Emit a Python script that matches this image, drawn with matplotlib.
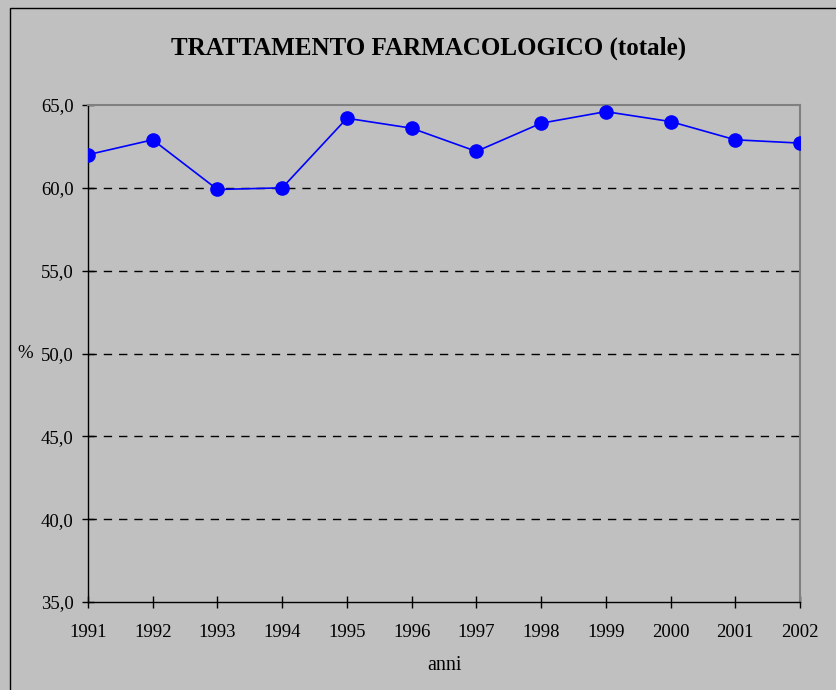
import matplotlib.pyplot as plt
from matplotlib.patches import Rectangle
from matplotlib.ticker import FuncFormatter

anni = [1991, 1992, 1993, 1994, 1995, 1996, 1997, 1998, 1999, 2000, 2001, 2002]
percentuale = [62.0, 62.9, 59.9, 60.0, 64.2, 63.6, 62.2, 63.9, 64.6, 64.0, 62.9, 62.7]
y_ticks = [35.0, 40.0, 45.0, 50.0, 55.0, 60.0, 65.0]

plt.rcParams['font.family'] = ['Liberation Serif', 'DejaVu Serif']

W, H = 836, 690
fig = plt.figure(figsize=(W / 100, H / 100), dpi=100)
fig.patch.set_facecolor('#C0C0C0')

# chart frame (runs off the right and bottom edge)
fig.patches.append(Rectangle((10 / W, -0.05), 1.2, 1 - 8 / H + 0.05,
                             transform=fig.transFigure, fill=False,
                             edgecolor='black', linewidth=1.0))

ax = fig.add_axes([88 / W, 1 - 602 / H, (800 - 88) / W, (602 - 105) / H])
ax.set_facecolor('#C0C0C0')

ax.plot(range(len(anni)), percentuale, color='#0000FF', linewidth=1.2,
        marker='o', markersize=9.5, markeredgecolor='#0000FF', zorder=3)

ax.set_xlim(0, len(anni) - 1)
ax.set_ylim(35, 65)
ax.set_xticks(range(len(anni)))
ax.set_xticklabels([str(a) for a in anni])
ax.set_yticks(y_ticks)
ax.yaxis.set_major_formatter(FuncFormatter(lambda v, p: f"{v:.1f}".replace('.', ',')))

for v in y_ticks[1:-1]:
    ax.axhline(v, color='black', linewidth=1.0, linestyle=(0, (6, 5)), zorder=1)

for side in ['left', 'bottom']:
    ax.spines[side].set_color('black')
    ax.spines[side].set_linewidth(1.0)
for side in ['top', 'right']:
    ax.spines[side].set_color('#808080')
    ax.spines[side].set_linewidth(1.5)

ax.tick_params(axis='both', direction='inout', length=9, width=1.0,
               colors='black', labelsize=13.5)
ax.tick_params(axis='x', pad=11)
ax.tick_params(axis='y', pad=6)

fig.text(429 / W, 1 - 48 / H, 'TRATTAMENTO FARMACOLOGICO (totale)',
         ha='center', va='center', fontsize=18, fontweight='bold')
fig.text(25 / W, 1 - 354 / H, '%', ha='center', va='center', fontsize=13.5)
fig.text(445 / W, 1 - 665 / H, 'anni', ha='center', va='center', fontsize=14.5)

fig.savefig('out.png', dpi=100, facecolor=fig.get_facecolor())
